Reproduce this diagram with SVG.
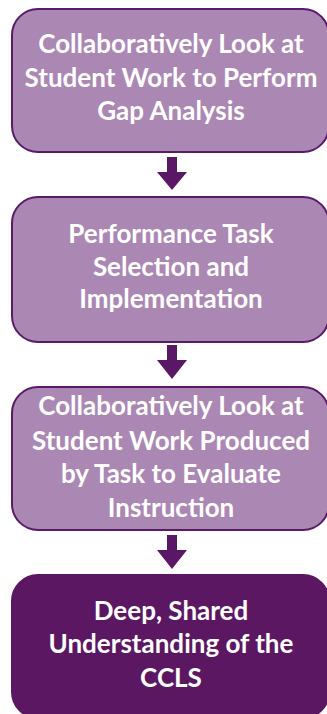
<svg xmlns="http://www.w3.org/2000/svg" width="327" height="714" viewBox="0 0 327 714">
<style>
.box{fill:#ab87b3;stroke:#5a1a6a;stroke-width:2}
.dark{fill:#5b1762;stroke:#5b1762;stroke-width:2}
.t{font-family:Lato,"Liberation Sans",sans-serif;font-weight:bold;font-size:26px;fill:#ffffff;text-anchor:middle}
.arr{fill:#5a1765}
</style>
<rect width="327" height="714" fill="#ffffff"/>
<g id="n1">
<rect class="box" x="12" y="9" width="317" height="143" rx="26"/>
<text class="t" x="171" y="53">Collaboratively Look at</text>
<text class="t" x="171" y="87">Student Work to Perform</text>
<text class="t" x="171" y="120">Gap Analysis</text>
</g>
<g id="n2">
<rect class="box" x="12" y="197" width="317" height="145" rx="26"/>
<text class="t" x="171" y="243">Performance Task</text>
<text class="t" x="171" y="276">Selection and</text>
<text class="t" x="171" y="308">Implementation</text>
</g>
<g id="n3">
<rect class="box" x="12" y="387" width="317" height="143" rx="26"/>
<text class="t" x="171" y="415">Collaboratively Look at</text>
<text class="t" x="171" y="450">Student Work Produced</text>
<text class="t" x="171" y="483">by Task to Evaluate</text>
<text class="t" x="171" y="517">Instruction</text>
</g>
<g id="n4">
<rect class="dark" x="12" y="575" width="317" height="143" rx="26"/>
<text class="t" x="171" y="620">Deep, Shared</text>
<text class="t" x="171" y="653">Understanding of the</text>
<text class="t" x="171" y="687">CCLS</text>
</g>
<g id="connectors">
<polygon class="arr" points="167,157 177,157 177,172 187,172 172,190 157,172 167,172"/>
<polygon class="arr" points="167,345 177,345 177,360 187,360 172,379 157,360 167,360"/>
<polygon class="arr" points="167,535 177,535 177,550 187,550 172,569 157,550 167,550"/>
</g>
</svg>
